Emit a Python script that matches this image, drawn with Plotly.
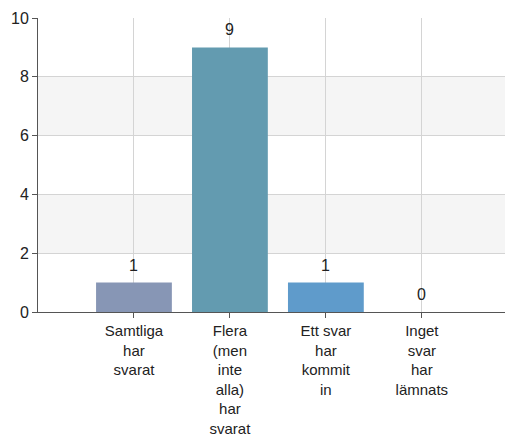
import plotly.graph_objects as go

categories = [
    "Samtliga<br>har<br>svarat",
    "Flera<br>(men<br>inte<br>alla)<br>har<br>svarat",
    "Ett svar<br>har<br>kommit<br>in",
    "Inget<br>svar<br>har<br>lämnats",
]
values = [1, 9, 1, 0]
bar_colors = ["#8796b5", "#639bb0", "#5f9bcb", "#8796b5"]

fig = go.Figure()
fig.add_trace(go.Bar(
    x=list(range(len(categories))),
    y=values,
    marker=dict(color=bar_colors, line=dict(width=0)),
    width=0.79,
))

# value labels above the bars
for i, v in enumerate(values):
    fig.add_annotation(x=i, y=v, text=str(v), showarrow=False,
                       yanchor="bottom", yshift=7,
                       font=dict(family="Arial", size=16, color="#222222"))

# alternating background bands
for lo, hi in [(2, 4), (6, 8)]:
    fig.add_shape(type="rect", xref="paper", yref="y", x0=0, x1=1, y0=lo, y1=hi,
                  fillcolor="#f5f5f5", line=dict(width=0), layer="below")

# page body has an 8px margin, so the figure is sized to fit the window
fig.update_layout(
    width=505,
    height=429,
    margin=dict(l=30, r=0, t=10, b=125, autoexpand=False),
    plot_bgcolor="white",
    paper_bgcolor="white",
    showlegend=False,
    font=dict(family="Arial", size=16, color="#222222"),
)
fig.update_xaxes(
    tickmode="array",
    tickvals=list(range(len(categories))),
    ticktext=categories,
    range=[-1, 3.95],
    showgrid=True,
    gridcolor="#d4d4d4",
    showline=True,
    linecolor="#555555",
    linewidth=1,
    ticks="outside",
    ticklen=5,
    tickcolor="#555555",
    tickfont=dict(size=15),
    zeroline=False,
    automargin=False,
)
fig.update_yaxes(
    range=[0, 10],
    dtick=2,
    showgrid=True,
    gridcolor="#d4d4d4",
    showline=True,
    linecolor="#555555",
    linewidth=1,
    ticks="outside",
    ticklen=5,
    tickcolor="#555555",
    tickfont=dict(size=16),
    zeroline=False,
    automargin=False,
)

fig.write_html("out.html")
